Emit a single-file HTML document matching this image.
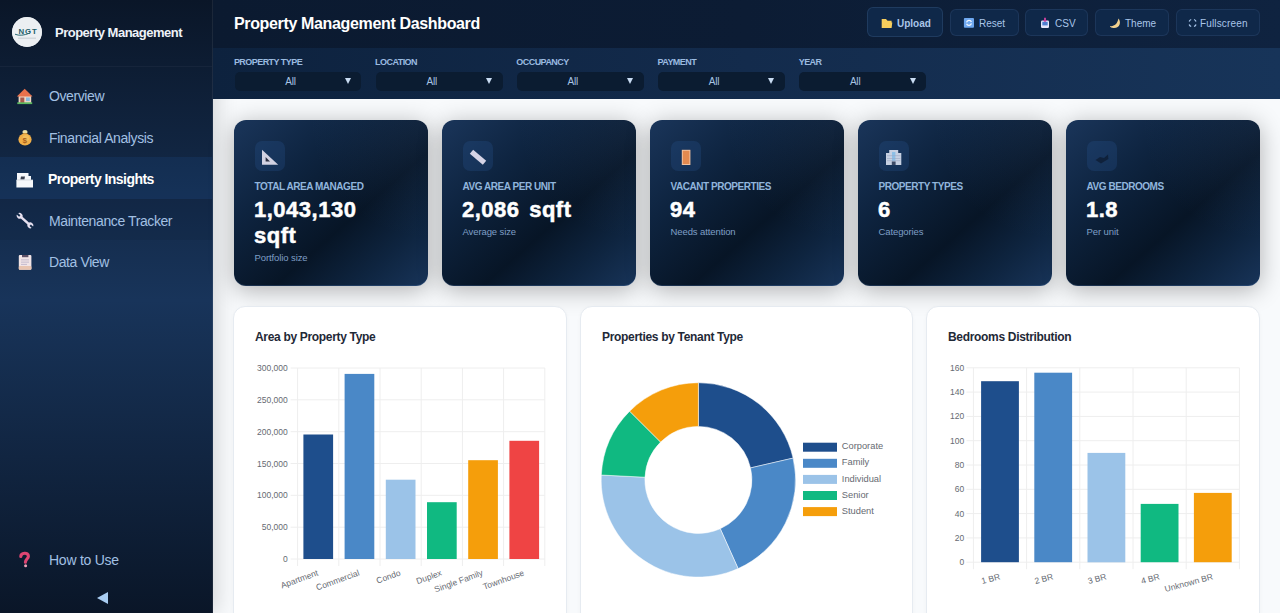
<!DOCTYPE html>
<html><head><meta charset="utf-8">
<style>
*{box-sizing:border-box;margin:0;padding:0}
html,body{width:1280px;height:613px;overflow:hidden;background:#f8fafc;font-family:"Liberation Sans",sans-serif}
.a{position:absolute}
.t{position:absolute;white-space:nowrap;line-height:1}
#sb{left:0;top:0;width:213px;height:613px;box-shadow:4px 0 20px rgba(0,0,0,0.15);background:linear-gradient(180deg,#0a1628 0%,#18345a 49%,#0a1628 100%);border-right:1px solid rgba(255,255,255,0.07)}
#hd{left:213px;top:0;width:1067px;height:48px;background:linear-gradient(90deg,#0b1a30 0%,#0c1c34 50%,#0f2340 100%)}
#fb{left:213px;top:48px;width:1067px;height:51px;background:linear-gradient(90deg,#0d223e 0%,#132b4c 50%,#173459 100%)}
.nav{color:#a2c0e3;font-size:14px;letter-spacing:-0.4px}
.btn{position:absolute;top:9px;height:27px;border-radius:6px;background:#0f2849;border:1px solid rgba(120,160,210,0.12)}
.btxt{position:absolute;font-size:10px;color:#a9c5e8;line-height:1;white-space:nowrap}
.flab{position:absolute;top:58px;font-size:9px;font-weight:bold;color:#9bbbe0;letter-spacing:-0.55px;line-height:1;white-space:nowrap}
.sel{position:absolute;top:72px;width:126.5px;height:19px;border-radius:5px;background:#0b1c31}
.sel span{position:absolute;left:50.5px;top:5px;font-size:10px;color:#a8c4e4;line-height:1;letter-spacing:-0.2px}
.sel i{position:absolute;left:110.2px;top:6px;width:0;height:0;border-left:3.5px solid transparent;border-right:3.5px solid transparent;border-top:6px solid #c9dcf2}
.kpi{position:absolute;top:120px;width:194px;height:166px;border-radius:12px;background:radial-gradient(circle 118px at 100% 0%, rgba(90,130,190,0.109), rgba(90,130,190,0)),linear-gradient(138.9deg,#1a355a 0%,#0e2440 30%,#071526 60%,#0e243f 80%,#183459 100%);box-shadow:0 4px 24px rgba(0,0,0,0.3),inset 0 -1px 0 rgba(90,140,210,0.22)}
.kic{position:absolute;left:21px;top:21px;width:30px;height:30px;border-radius:7px;background:rgba(45,95,165,0.22)}
.klab{position:absolute;left:21px;top:62px;font-size:10px;font-weight:bold;color:#91b5dc;letter-spacing:-0.45px;line-height:1;white-space:nowrap}
.kval{position:absolute;left:20.5px;top:77px;font-size:22px;font-weight:bold;color:#fff;line-height:26px;letter-spacing:0.5px;word-spacing:3px;-webkit-text-stroke:0.5px #fff;white-space:nowrap}
.ksub{position:absolute;left:21px;font-size:9.5px;color:#7f9fc6;line-height:1;white-space:nowrap;letter-spacing:-0.1px}
.card{position:absolute;top:306px;width:333px;height:340px;border-radius:12px;background:#fff;border:1px solid #e6ebf1;box-shadow:0 1px 4px rgba(0,0,0,0.03)}
.ctitle{position:absolute;top:331px;font-size:12px;font-weight:bold;color:#1f2937;line-height:1;white-space:nowrap;letter-spacing:-0.32px}
</style></head><body>
<!-- SIDEBAR -->
<div id="sb" class="a">
  <div class="a" style="left:0;top:0;width:212px;height:67px;border-bottom:1px solid rgba(255,255,255,0.04)"></div>
  <div class="a" style="left:12px;top:17px;width:30px;height:30px;border-radius:50%;background:#eceff2"></div>
  <div class="t" style="left:55px;top:25.5px;font-size:13px;font-weight:bold;color:#eef2f8;letter-spacing:-0.5px">Property Management</div>
  <!-- active + hover rows -->
  <div class="a" style="left:0;top:157px;width:212px;height:42px;background:rgba(40,110,200,0.12)"></div>
  <div class="a" style="left:0;top:199px;width:212px;height:41px;background:rgba(0,0,0,0.05)"></div>
  <div class="t nav" style="left:49px;top:89px">Overview</div>
  <div class="t nav" style="left:49px;top:130.5px">Financial Analysis</div>
  <div class="t nav" style="left:48px;top:172px;color:#fff;font-weight:bold;letter-spacing:-0.55px">Property Insights</div>
  <div class="t nav" style="left:49px;top:213.5px">Maintenance Tracker</div>
  <div class="t nav" style="left:49px;top:255px">Data View</div>
  <div class="t nav" style="left:49px;top:552.5px;letter-spacing:-0.25px">How to Use</div>
  <div class="a" style="left:97px;top:591.5px;width:0;height:0;border-top:6.5px solid transparent;border-bottom:6.5px solid transparent;border-right:11px solid #a9cdf2"></div>
</div>
<!-- HEADER -->
<div id="hd" class="a"></div>
<div class="t" style="left:234px;top:15.5px;font-size:16px;font-weight:bold;color:#fff;letter-spacing:-0.35px">Property Management Dashboard</div>
<div class="btn" style="left:867px;top:7px;width:76px;height:30px;border-color:rgba(120,160,210,0.16)"></div>
<div class="btn" style="left:950px;width:69px"></div>
<div class="btn" style="left:1025px;width:63px"></div>
<div class="btn" style="left:1095px;width:74px"></div>
<div class="btn" style="left:1176px;width:84px"></div>
<div class="btxt" style="left:897px;top:18.7px;font-weight:bold">Upload</div>
<div class="btxt" style="left:979px;top:18.7px">Reset</div>
<div class="btxt" style="left:1055px;top:18.7px">CSV</div>
<div class="btxt" style="left:1125px;top:18.7px">Theme</div>
<div class="btxt" style="left:1200px;top:18.7px;letter-spacing:0.15px">Fullscreen</div>
<!-- FILTER BAR -->
<div id="fb" class="a"></div>
<div class="flab" style="left:233.9px">PROPERTY TYPE</div>
<div class="flab" style="left:375.1px">LOCATION</div>
<div class="flab" style="left:516.3px">OCCUPANCY</div>
<div class="flab" style="left:657.5px">PAYMENT</div>
<div class="flab" style="left:798.7px">YEAR</div>
<div class="sel" style="left:234.8px"><span>All</span><i></i></div>
<div class="sel" style="left:376.0px"><span>All</span><i></i></div>
<div class="sel" style="left:517.1px"><span>All</span><i></i></div>
<div class="sel" style="left:658.2px"><span>All</span><i></i></div>
<div class="sel" style="left:799.4px"><span>All</span><i></i></div>
<!-- KPI CARDS -->
<div class="kpi" style="left:233.5px"><div class="kic"></div><div class="klab">TOTAL AREA MANAGED</div><div class="kval">1,043,130<br>sqft</div><div class="ksub" style="top:133px">Portfolio size</div></div>
<div class="kpi" style="left:441.5px"><div class="kic"></div><div class="klab">AVG AREA PER UNIT</div><div class="kval">2,086 sqft</div><div class="ksub" style="top:107px">Average size</div></div>
<div class="kpi" style="left:649.5px"><div class="kic"></div><div class="klab">VACANT PROPERTIES</div><div class="kval">94</div><div class="ksub" style="top:107px">Needs attention</div></div>
<div class="kpi" style="left:857.5px"><div class="kic"></div><div class="klab">PROPERTY TYPES</div><div class="kval">6</div><div class="ksub" style="top:107px">Categories</div></div>
<div class="kpi" style="left:1065.5px"><div class="kic"></div><div class="klab">AVG BEDROOMS</div><div class="kval">1.8</div><div class="ksub" style="top:107px">Per unit</div></div>
<!-- CHART CARDS -->
<div class="card" style="left:233px;width:334px"></div>
<div class="card" style="left:580px"></div>
<div class="card" style="left:926px;width:334px"></div>
<div class="ctitle" style="left:255px">Area by Property Type</div>
<div class="ctitle" style="left:602px">Properties by Tenant Type</div>
<div class="ctitle" style="left:948px">Bedrooms Distribution</div>
<!--ICONS-->
<svg class="a" style="left:0;top:0" width="1280" height="613" viewBox="0 0 1280 613">
<!-- logo -->
<circle cx="27" cy="32" r="14.8" fill="#eceff2"/>
<text x="18.4" y="33.6" style="font-family:'Liberation Sans',sans-serif;font-size:7.8px;font-weight:bold;letter-spacing:1px" fill="#1d5e6a">NGT</text>
<path d="M15,34.2 Q21,36.8 30,33" stroke="#2a6a72" stroke-width="1" fill="none"/>
<rect x="18" y="37.8" width="18" height="0.6" fill="#b0b8be"/>
<!-- house -->
<rect x="18.6" y="95" width="12.6" height="8" fill="#eed6c4"/>
<path d="M16.8,96.5 L24.7,88.7 L32.5,96.5 Z" fill="#e8714c"/>
<rect x="20.3" y="97.5" width="4" height="5.5" fill="#a8584a"/>
<rect x="26" y="97.5" width="3.8" height="3.6" fill="#86b9e0"/>
<rect x="17.3" y="102.3" width="14.9" height="1.8" fill="#5cb860"/>
<!-- money bag -->
<ellipse cx="25" cy="132" rx="2.6" ry="1.9" fill="#efe1a6"/>
<path d="M22.3,133.2 L27.7,133.2 L26.5,134.5 L23.5,134.5 Z" fill="#b07a20"/>
<ellipse cx="25" cy="139.5" rx="6.6" ry="6" fill="#f0ae48"/>
<ellipse cx="26" cy="138" rx="3.5" ry="3" fill="#f6c868" opacity="0.6"/>
<text x="22.6" y="142.8" style="font-family:'Liberation Sans',sans-serif;font-size:8px;font-weight:bold" fill="#a8601c">$</text>
<!-- property insights icon -->
<path d="M17,173 L28.5,173 L28.5,176 L31,176 L31,180 L33,180 L33,187.6 L16.4,187.6 L16.4,180 L17,180 Z" fill="#f6f8fb"/>
<path d="M21,176.5 L25,176.5 L24.4,179.6 L20.4,179.6 Z" fill="#3a4050"/>
<rect x="16.4" y="179.6" width="16.6" height="0.7" fill="#c8ccd4"/>
<!-- wrench -->
<g transform="translate(25,220.6) rotate(42)" fill="#e6e0f0">
<rect x="-6" y="-1.25" width="12" height="2.5"/>
<circle cx="-7.2" cy="0" r="2.9"/><circle cx="7.2" cy="0" r="2.9"/>
<rect x="-10.6" y="-1" width="3.6" height="2" fill="#112a48"/><rect x="7" y="-1" width="3.6" height="2" fill="#112a48"/>
</g>
<!-- clipboard -->
<rect x="18.8" y="255" width="12.6" height="14.8" rx="1" fill="#f1e4e6"/>
<rect x="18.8" y="266" width="12.6" height="3.8" rx="1" fill="#e8c4b0"/>
<rect x="22" y="255" width="6.4" height="2.2" fill="#5e5066"/>
<g fill="#b8b0c8"><rect x="21" y="259.5" width="8" height="0.8"/><rect x="21" y="261.7" width="8" height="0.8"/><rect x="21" y="263.9" width="6" height="0.8"/></g>
<!-- question -->
<path d="M20.8,556.5 C20.8,552.8 28.4,551.8 28.4,556.2 C28.4,558.8 25.4,559.4 25.4,562.2" stroke="#de4572" stroke-width="3.1" fill="none" stroke-linecap="round"/>
<circle cx="25.6" cy="565.7" r="1.5" fill="#f0a0b8"/>
<!-- folder -->
<path d="M881.7,19 L886,19 L887.5,20.8 L891.6,20.8 L891.6,22.5 L892.3,22.5 L891.6,28 L881.7,28 Z" fill="#f6cd5c"/>
<!-- reset -->
<rect x="963.9" y="17.9" width="10.1" height="9.9" rx="1" fill="#6ea8f0"/>
<path d="M966.6,22.4 A2.5,2.5 0 0 1 971.4,22" stroke="#f4f8ff" stroke-width="1.3" fill="none"/>
<path d="M971.4,23.4 A2.5,2.5 0 0 1 966.6,23.8" stroke="#f4f8ff" stroke-width="1.3" fill="none"/>
<!-- csv inbox -->
<rect x="1041" y="20.5" width="8" height="7.5" rx="1.2" fill="#e4e6fa"/>
<rect x="1042.3" y="21.8" width="5.4" height="3.6" fill="#4f7fcf"/>
<path d="M1044,17.7 L1046,17.7 L1046,20 L1047.2,20 L1045,22.2 L1042.8,20 L1044,20 Z" fill="#c0409a"/>
<!-- moon -->
<path d="M1118.4,18.6 C1121.5,22 1120,28.5 1113.5,28.1 C1111.5,28 1110.3,27 1109.9,26 C1113.5,26.8 1117.5,24.5 1118.4,18.6 Z" fill="#f2d18e"/>
<!-- fullscreen -->
<g stroke="#a9c6ea" stroke-width="1.3" fill="none">
<path d="M1189.2,21.5 A3,3 0 0 1 1191.2,19.5"/><path d="M1194,19.5 A3,3 0 0 1 1196,21.5"/>
<path d="M1196,24.5 A3,3 0 0 1 1194,26.5"/><path d="M1191.2,26.5 A3,3 0 0 1 1189.2,24.5"/>
</g>
<!-- kpi icons -->
<path d="M262,149.8 L262,164.8 L278.2,164.8 Z" fill="#d2d2e2"/>
<path d="M265.6,157 L265.6,161.5 L270,161.5 Z" fill="#2a2e40"/>
<rect x="469.5" y="154.6" width="17" height="5.2" fill="#d6d4e6" transform="rotate(40 478 157.2)"/>
<rect x="681.8" y="149.8" width="8.6" height="15.2" fill="#f2c2a0"/>
<rect x="682.8" y="150.8" width="6.6" height="13.2" fill="#e38a50"/>
<path d="M889.2,150 L898.2,150 L898.2,153 L901.3,153 L901.3,165 L886,165 L886,153 L889.2,153 Z" fill="#c6d0e2"/>
<rect x="892" y="152" width="3.4" height="9" fill="#8cbfe6"/><g fill="#9aa8c4"><rect x="887" y="155.5" width="13.3" height="0.6"/><rect x="887" y="158" width="13.3" height="0.6"/><rect x="887" y="160.5" width="13.3" height="0.6"/></g>
<rect x="891.8" y="161.5" width="3.8" height="3.5" fill="#3c4a66"/>
<path d="M1095.5,160 L1100,157 L1104,158 L1108,154.5 L1108.4,159 L1101,163.5 Z" fill="#0e1d33" opacity="0.8"/>
</svg>
<!--/ICONS-->
<!--CHARTS-->
<svg class="a" style="left:0;top:0" width="1280" height="613" viewBox="0 0 1280 613">
<g stroke="#eeeeee" stroke-width="1"><line x1="290.6" y1="368.0" x2="544.8" y2="368.0"/><line x1="290.6" y1="399.8" x2="544.8" y2="399.8"/><line x1="290.6" y1="431.7" x2="544.8" y2="431.7"/><line x1="290.6" y1="463.5" x2="544.8" y2="463.5"/><line x1="290.6" y1="495.3" x2="544.8" y2="495.3"/><line x1="290.6" y1="527.2" x2="544.8" y2="527.2"/><line x1="290.6" y1="559.0" x2="544.8" y2="559.0"/><line x1="297.6" y1="368.0" x2="297.6" y2="566.0"/><line x1="338.8" y1="368.0" x2="338.8" y2="566.0"/><line x1="380.0" y1="368.0" x2="380.0" y2="566.0"/><line x1="421.2" y1="368.0" x2="421.2" y2="566.0"/><line x1="462.4" y1="368.0" x2="462.4" y2="566.0"/><line x1="503.6" y1="368.0" x2="503.6" y2="566.0"/><line x1="544.8" y1="368.0" x2="544.8" y2="566.0"/></g>
<g style="font-family:'Liberation Sans',sans-serif;font-size:8.5px" fill="#666a72"><text x="287.8" y="371.0" text-anchor="end">300,000</text><text x="287.8" y="402.8" text-anchor="end">250,000</text><text x="287.8" y="434.7" text-anchor="end">200,000</text><text x="287.8" y="466.5" text-anchor="end">150,000</text><text x="287.8" y="498.3" text-anchor="end">100,000</text><text x="287.8" y="530.2" text-anchor="end">50,000</text><text x="287.8" y="562.0" text-anchor="end">0</text></g>
<rect x="303.4" y="434.5" width="29.7" height="124.5" fill="#1e4e8c"/>
<rect x="344.6" y="373.9" width="29.7" height="185.1" fill="#4a88c7"/>
<rect x="385.8" y="479.7" width="29.7" height="79.3" fill="#9bc3e8"/>
<rect x="427.0" y="502.2" width="29.7" height="56.8" fill="#10b981"/>
<rect x="468.2" y="460.2" width="29.7" height="98.8" fill="#f59e0b"/>
<rect x="509.4" y="440.8" width="29.7" height="118.2" fill="#ef4444"/>
<g style="font-family:'Liberation Sans',sans-serif;font-size:8.5px" fill="#666a72"><text transform="translate(318.0,573) rotate(-20)" text-anchor="end" dominant-baseline="middle">Apartment</text><text transform="translate(359.2,573) rotate(-20)" text-anchor="end" dominant-baseline="middle">Commercial</text><text transform="translate(400.4,573) rotate(-20)" text-anchor="end" dominant-baseline="middle">Condo</text><text transform="translate(441.6,573) rotate(-20)" text-anchor="end" dominant-baseline="middle">Duplex</text><text transform="translate(482.8,573) rotate(-20)" text-anchor="end" dominant-baseline="middle">Single Family</text><text transform="translate(524.0,573) rotate(-20)" text-anchor="end" dominant-baseline="middle">Townhouse</text></g>
<g stroke="#eeeeee" stroke-width="1"><line x1="966.4" y1="367.8" x2="1239.4" y2="367.8"/><line x1="966.4" y1="392.1" x2="1239.4" y2="392.1"/><line x1="966.4" y1="416.4" x2="1239.4" y2="416.4"/><line x1="966.4" y1="440.7" x2="1239.4" y2="440.7"/><line x1="966.4" y1="465.0" x2="1239.4" y2="465.0"/><line x1="966.4" y1="489.3" x2="1239.4" y2="489.3"/><line x1="966.4" y1="513.6" x2="1239.4" y2="513.6"/><line x1="966.4" y1="537.9" x2="1239.4" y2="537.9"/><line x1="966.4" y1="562.2" x2="1239.4" y2="562.2"/><line x1="973.4" y1="367.8" x2="973.4" y2="569.2"/><line x1="1026.6" y1="367.8" x2="1026.6" y2="569.2"/><line x1="1079.8" y1="367.8" x2="1079.8" y2="569.2"/><line x1="1133.0" y1="367.8" x2="1133.0" y2="569.2"/><line x1="1186.2" y1="367.8" x2="1186.2" y2="569.2"/><line x1="1239.4" y1="367.8" x2="1239.4" y2="569.2"/></g>
<g style="font-family:'Liberation Sans',sans-serif;font-size:8.5px" fill="#666a72"><text x="964.3" y="370.8" text-anchor="end">160</text><text x="964.3" y="395.1" text-anchor="end">140</text><text x="964.3" y="419.4" text-anchor="end">120</text><text x="964.3" y="443.7" text-anchor="end">100</text><text x="964.3" y="468.0" text-anchor="end">80</text><text x="964.3" y="492.3" text-anchor="end">60</text><text x="964.3" y="516.6" text-anchor="end">40</text><text x="964.3" y="540.9" text-anchor="end">20</text><text x="964.3" y="565.2" text-anchor="end">0</text></g>
<rect x="981.1" y="381.2" width="37.8" height="181.0" fill="#1e4e8c"/>
<rect x="1034.3" y="372.7" width="37.8" height="189.5" fill="#4a88c7"/>
<rect x="1087.5" y="452.9" width="37.8" height="109.4" fill="#9bc3e8"/>
<rect x="1140.7" y="503.9" width="37.8" height="58.3" fill="#10b981"/>
<rect x="1193.9" y="492.9" width="37.8" height="69.3" fill="#f59e0b"/>
<g style="font-family:'Liberation Sans',sans-serif;font-size:8.5px" fill="#666a72"><text transform="translate(1000.0,577) rotate(-15)" text-anchor="end" dominant-baseline="middle">1 BR</text><text transform="translate(1053.2,577) rotate(-15)" text-anchor="end" dominant-baseline="middle">2 BR</text><text transform="translate(1106.4,577) rotate(-15)" text-anchor="end" dominant-baseline="middle">3 BR</text><text transform="translate(1159.6,577) rotate(-15)" text-anchor="end" dominant-baseline="middle">4 BR</text><text transform="translate(1212.8,577) rotate(-15)" text-anchor="end" dominant-baseline="middle">Unknown BR</text></g>
<path d="M698.40,382.70 A97.2,97.2 0 0 1 793.12,458.10 L750.54,467.90 A53.5,53.5 0 0 0 698.40,426.40 Z" fill="#1e4e8c" stroke="#fff" stroke-width="0.5"/>
<path d="M793.12,458.10 A97.2,97.2 0 0 1 738.12,568.61 L720.26,528.73 A53.5,53.5 0 0 0 750.54,467.90 Z" fill="#4a88c7" stroke="#fff" stroke-width="0.5"/>
<path d="M738.12,568.61 A97.2,97.2 0 0 1 601.32,475.02 L644.97,477.21 A53.5,53.5 0 0 0 720.26,528.73 Z" fill="#9bc3e8" stroke="#fff" stroke-width="0.5"/>
<path d="M601.32,475.02 A97.2,97.2 0 0 1 629.67,411.17 L660.57,442.07 A53.5,53.5 0 0 0 644.97,477.21 Z" fill="#10b981" stroke="#fff" stroke-width="0.5"/>
<path d="M629.67,411.17 A97.2,97.2 0 0 1 698.40,382.70 L698.40,426.40 A53.5,53.5 0 0 0 660.57,442.07 Z" fill="#f59e0b" stroke="#fff" stroke-width="0.5"/>
<rect x="803" y="442.7" width="34" height="9" fill="#1e4e8c"/>
<rect x="803" y="458.8" width="34" height="9" fill="#4a88c7"/>
<rect x="803" y="474.9" width="34" height="9" fill="#9bc3e8"/>
<rect x="803" y="491.0" width="34" height="9" fill="#10b981"/>
<rect x="803" y="507.1" width="34" height="9" fill="#f59e0b"/>
<g style="font-family:'Liberation Sans',sans-serif;font-size:9.3px" fill="#666a72"><text x="841.8" y="449.3">Corporate</text><text x="841.8" y="465.4">Family</text><text x="841.8" y="481.5">Individual</text><text x="841.8" y="497.6">Senior</text><text x="841.8" y="513.7">Student</text></g>
</svg>
</body></html>
